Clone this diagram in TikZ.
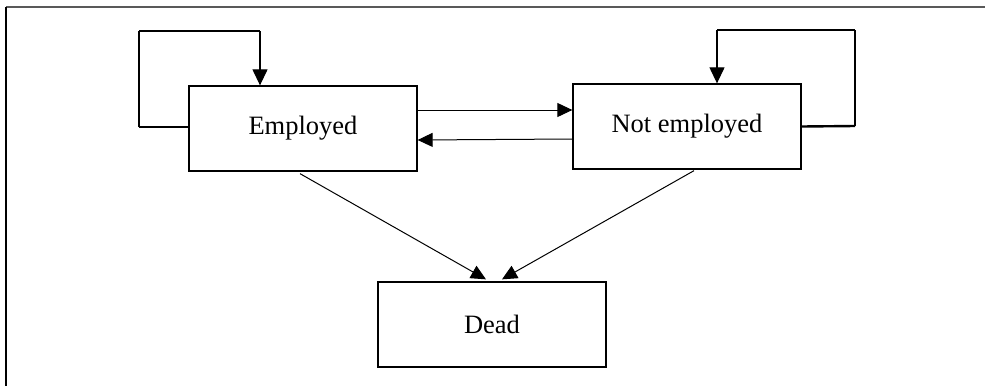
\documentclass[tikz,border=0pt]{standalone}
\usepackage{fontspec}
\setmainfont{Liberation Serif}
\usetikzlibrary{arrows.meta,calc}
\begin{document}
\begin{tikzpicture}[x=1pt,y=-1pt,
  statebox/.style={draw, line width=1.3pt, minimum width=228pt, minimum height=85pt, inner sep=0pt, font=\fontsize{26.5}{30}\selectfont},
  conn/.style={line width=1pt, -{Triangle[length=15pt,width=14pt]}},
  loopv/.style={line width=1.2pt},
  looph/.style={line width=2.4pt}]
\useasboundingbox (0,0) rectangle (985,386);
\draw[line width=2pt, black!65] (6,7) -- (985,7);
\draw[line width=1.5pt] (6,7) -- (6,386);

\node[statebox] (E) at (303,128.5) {Employed};
\node[statebox] (N) at (687,126.5) {Not employed};
\node[statebox] (D) at (492,324.5) {Dead};

% loop on Employed
\coordinate (ea) at (139,127);
\coordinate (eb) at (139,31);
\coordinate (ec) at (260,31);
\draw[looph] ($(E.west)+(0,-1.5)$) -- (ea);
\draw[loopv] (ea) -- (eb);
\draw[looph] (eb) -- (ec);
\draw[loopv, -{Triangle[length=16pt,width=15pt]}] (ec) -- (ec |- E.north);

% loop on Not employed
\coordinate (na) at (855,126);
\coordinate (nb) at (855,30);
\coordinate (nc) at (717,30);
\draw[looph] (N.east) -- (na);
\draw[loopv] (na) -- (nb);
\draw[looph] (nb) -- (nc);
\draw[loopv, -{Triangle[length=16pt,width=15pt]}] (nc) -- (nc |- N.north);

% transitions between Employed and Not employed
\draw[conn] ($(E.east)+(0,-18.5)$) -- ($(N.west)+(0,-16.5)$);
\draw[conn] ($(N.west)+(0,12.5)$) -- ($(E.east)+(0,11.5)$);

% to Dead
\draw[conn] ($(E.south)+(-3,2)$) -- ($(D.north)+(-6,-2)$);
\draw[conn] ($(N.south)+(7,1)$) -- ($(D.north)+(10,-2)$);
\end{tikzpicture}
\end{document}
